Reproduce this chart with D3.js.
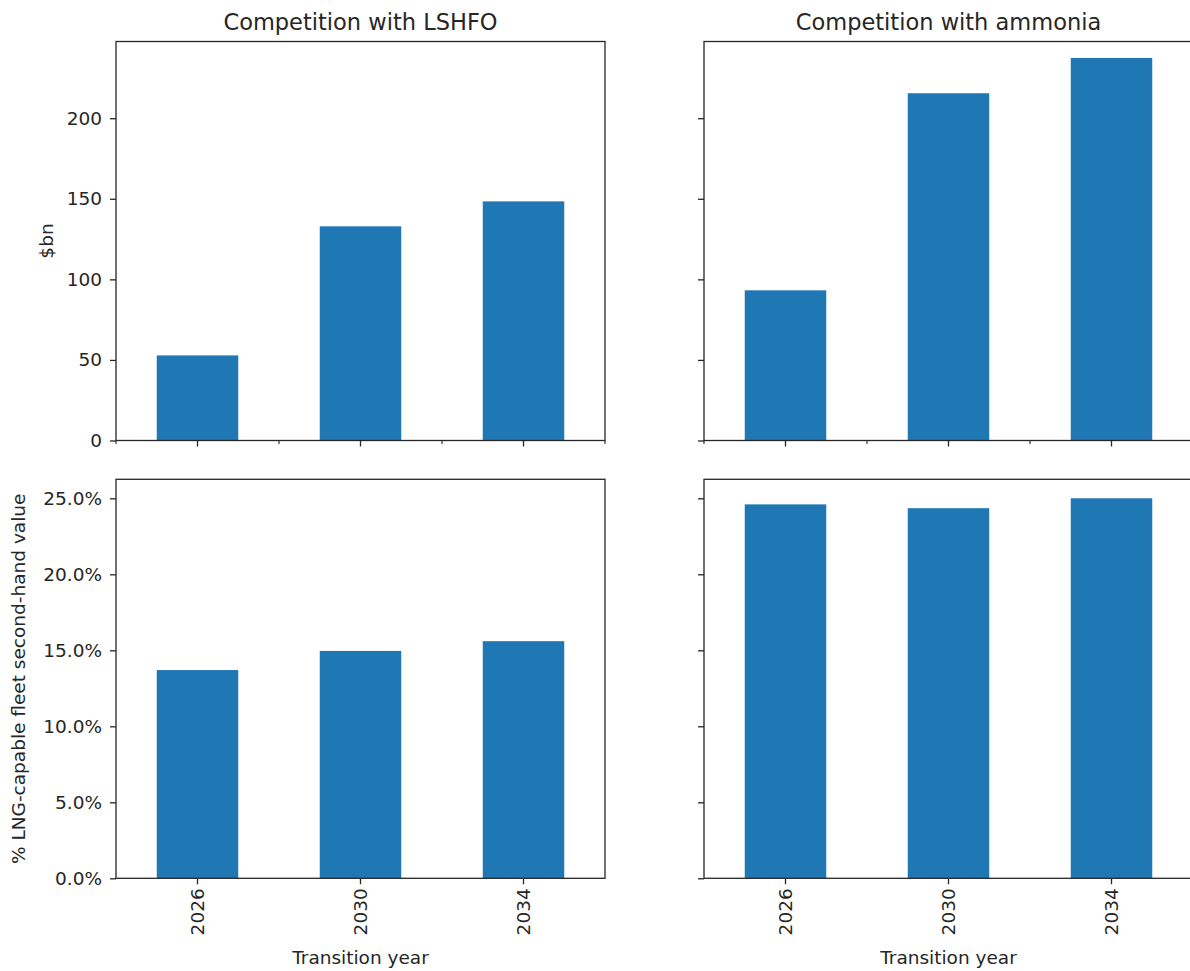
<!DOCTYPE html>
<html>
<head>
<meta charset="utf-8">
<script src="https://cdn.jsdelivr.net/npm/d3@7"></script>
<style>
  html, body { margin: 0; padding: 0; background: #fff; }
  svg text { font-family: "DejaVu Sans", sans-serif; fill: #262626; }
</style>
</head>
<body>
<svg id="chart" width="1190" height="971"></svg>
<script>
// Transition years (x categories)
const years = ["2026", "2030", "2034"];

// Stranded value, $bn
const costLSHFO = [52.8, 132.9, 148.4];
const costAmmonia = [93.2, 215.5, 237.4];

// Share of LNG-capable fleet second-hand value, %
const shareLSHFO = [13.7, 14.96, 15.6];
const shareAmmonia = [24.6, 24.35, 25.0];

// Column titles
const titles = ["Competition with LSHFO", "Competition with ammonia"];

// Tick values
const costTicks = [0, 50, 100, 150, 200];
const shareTicks = [0, 5, 10, 15, 20, 25];

const svg = d3.select("#chart");
const colX = [116, 704];
const rowY = [41.5, 479.3];
const W = 489, H = 399;
const barColor = "#1f77b4";
const axisColor = "#262626";
const fontSize = 18.5;

// shared y domains (sharey per row), padded like matplotlib's margin
const costMax = d3.max([...costLSHFO, ...costAmmonia]) * 1.043;
const shareMax = d3.max([...shareLSHFO, ...shareAmmonia]) * 1.05;

const panels = [
  { row: 0, col: 0, values: costLSHFO, max: costMax, ticks: costTicks, fmt: d3.format("d") },
  { row: 0, col: 1, values: costAmmonia, max: costMax, ticks: costTicks, fmt: d3.format("d") },
  { row: 1, col: 0, values: shareLSHFO, max: shareMax, ticks: shareTicks, fmt: d => d.toFixed(1) + "%" },
  { row: 1, col: 1, values: shareAmmonia, max: shareMax, ticks: shareTicks, fmt: d => d.toFixed(1) + "%" }
];

panels.forEach(p => {
  const x0 = colX[p.col], y0 = rowY[p.row];
  const x = d3.scaleBand().domain(years).range([x0, x0 + W]).paddingInner(0.5).paddingOuter(0.25);
  const y = d3.scaleLinear().domain([0, p.max]).range([y0 + H, y0]);
  const g = svg.append("g");

  // bars
  g.selectAll("rect.bar")
    .data(p.values)
    .join("rect")
    .attr("class", "bar")
    .attr("x", (d, i) => x(years[i]))
    .attr("width", x.bandwidth())
    .attr("y", d => y(d))
    .attr("height", d => y(0) - y(d))
    .attr("fill", barColor);

  // y axis
  const yAxis = d3.axisLeft(y).tickValues(p.ticks).tickSize(6).tickPadding(8)
    .tickFormat(p.col === 0 ? p.fmt : "");
  const ya = g.append("g").attr("transform", `translate(${x0},0)`).call(yAxis);
  ya.select(".domain").remove();
  ya.selectAll(".tick line").attr("stroke", axisColor).attr("stroke-width", 1.3);
  ya.selectAll(".tick text").attr("font-size", fontSize).attr("fill", axisColor)
    .attr("font-family", "DejaVu Sans, sans-serif");

  // x axis
  const xAxis = d3.axisBottom(x).tickSize(6).tickPadding(5)
    .tickFormat(p.row === 1 ? (d => d) : "");
  const xa = g.append("g").attr("transform", `translate(0,${y0 + H})`).call(xAxis);
  xa.select(".domain").remove();
  xa.selectAll(".tick line").attr("stroke", axisColor).attr("stroke-width", 1.3);
  if (p.row === 1) {
    xa.selectAll(".tick text")
      .attr("font-size", fontSize).attr("fill", axisColor)
      .attr("font-family", "DejaVu Sans, sans-serif")
      .attr("transform", "rotate(-90)")
      .attr("text-anchor", "end")
      .attr("x", -10).attr("y", 0).attr("dy", "0.36em");
  } else {
    // minor ticks at category boundaries
    const minor = d3.range(years.length + 1).map(i => x0 + i * x.step());
    g.selectAll("line.minor")
      .data(minor)
      .join("line")
      .attr("class", "minor")
      .attr("x1", d => d).attr("x2", d => d)
      .attr("y1", y0 + H).attr("y2", y0 + H + 3.5)
      .attr("stroke", axisColor).attr("stroke-width", 1.1);
  }

  // frame
  g.append("rect")
    .attr("x", x0).attr("y", y0).attr("width", W).attr("height", H)
    .attr("fill", "none").attr("stroke", axisColor).attr("stroke-width", 1.3);

  if (p.row === 0) {
    g.append("text")
      .attr("x", x0 + W / 2).attr("y", y0 - 12)
      .attr("text-anchor", "middle").attr("font-size", 22.5)
      .text(titles[p.col]);
  } else {
    g.append("text")
      .attr("x", x0 + W / 2).attr("y", 964)
      .attr("text-anchor", "middle").attr("font-size", fontSize)
      .text("Transition year");
  }
});

// y axis labels
svg.append("text")
  .attr("transform", `translate(53,${rowY[0] + H / 2}) rotate(-90)`)
  .attr("text-anchor", "middle").attr("font-size", fontSize)
  .text("$bn");
svg.append("text")
  .attr("transform", `translate(25,${rowY[1] + H / 2}) rotate(-90)`)
  .attr("text-anchor", "middle").attr("font-size", fontSize)
  .text("% LNG-capable fleet second-hand value");
</script>
</body>
</html>
